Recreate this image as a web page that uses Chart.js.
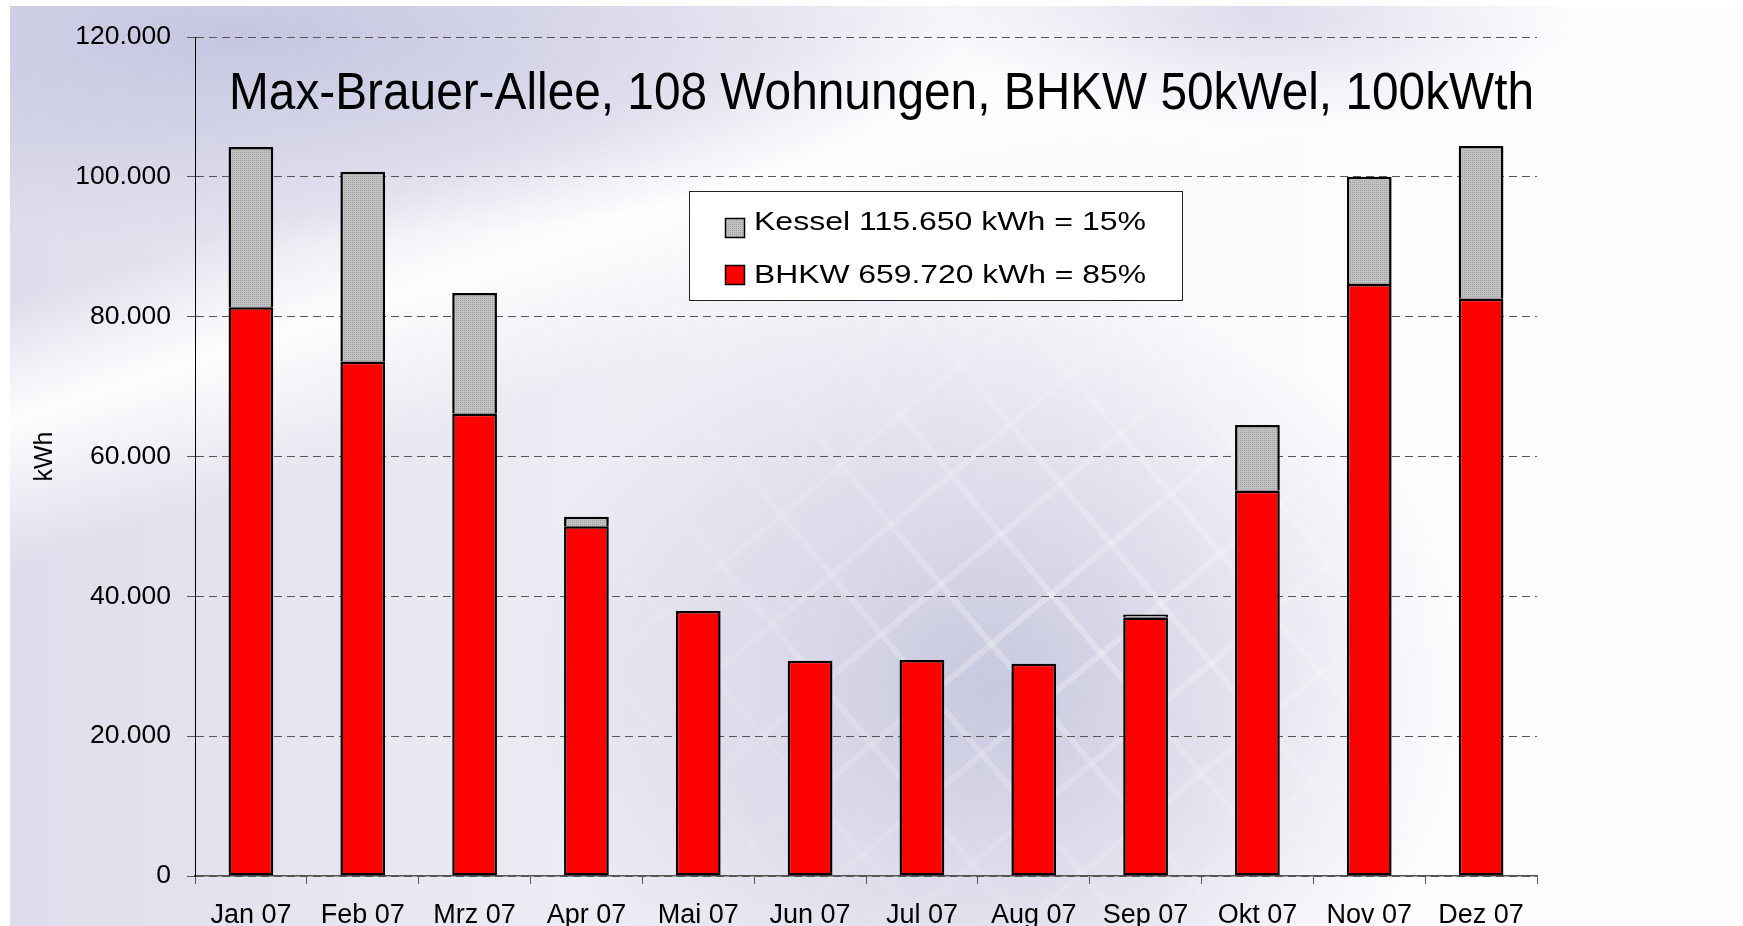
<!DOCTYPE html>
<html>
<head>
<meta charset="utf-8">
<script src="https://cdn.jsdelivr.net/npm/chart.js@4.4.1/dist/chart.umd.min.js"></script>
<style>
  html, body { margin: 0; padding: 0; background: #ffffff; }
  #bg {
    position: absolute; left: 10px; top: 6px; width: 1733px; height: 920px;
    background:
      radial-gradient(ellipse 470px 420px at 980px 680px, rgba(192,192,218,0.85), rgba(200,200,225,0) 100%),
      radial-gradient(ellipse 720px 210px at 230px 30px, rgba(196,196,224,0.95), rgba(210,210,230,0) 100%),
      radial-gradient(ellipse 320px 110px at 1250px 10px, rgba(205,205,228,0.7), rgba(220,220,235,0) 100%),
      linear-gradient(162deg, rgba(255,255,255,0) 0%, rgba(255,255,255,0) 20%, rgba(255,255,255,0.95) 28%, rgba(255,255,255,0) 38%),
      linear-gradient(90deg, #dedeec 0%, #e9e9f2 25%, #f3f3f8 50%, #fbfbfd 70%, #fefeff 100%);
  }
  #grid {
    position: absolute; left: 10px; top: 6px; width: 1733px; height: 920px;
    background:
      repeating-linear-gradient(50deg, rgba(255,255,255,0) 0px, rgba(255,255,255,0) 72px, rgba(255,255,255,0.3) 72px, rgba(255,255,255,0.3) 78px),
      repeating-linear-gradient(-40deg, rgba(255,255,255,0) 0px, rgba(255,255,255,0) 72px, rgba(255,255,255,0.3) 72px, rgba(255,255,255,0.3) 78px);
    -webkit-mask-image: radial-gradient(ellipse 520px 420px at 1050px 620px, rgba(0,0,0,1), rgba(0,0,0,0) 100%);
    mask-image: radial-gradient(ellipse 520px 420px at 1050px 620px, rgba(0,0,0,1), rgba(0,0,0,0) 100%);
  }
  #wrap { position: absolute; left: 0; top: 0; width: 1743px; height: 926px; }
</style>
</head>
<body>
<div id="bg"></div>
<div id="grid"></div>
<div id="wrap"><canvas id="c"></canvas></div>
<script>
const months = ['Jan 07','Feb 07','Mrz 07','Apr 07','Mai 07','Jun 07','Jul 07','Aug 07','Sep 07','Okt 07','Nov 07','Dez 07'];
const bhkw   = [81330, 73540, 66120, 50040, 37920, 30770, 30910, 30340, 36970, 55090, 84660, 82560];
const kessel = [22930, 27190, 17250,  1330,     0,     0,     0,     0,   430,  9400, 15350, 21850];
const yTickLabels = ['0','20.000','40.000','60.000','80.000','100.000','120.000'];
const chartTitle = 'Max-Brauer-Allee, 108 Wohnungen, BHKW 50kWel, 100kWth';
const legendLabels = ['Kessel 115.650 kWh = 15%', 'BHKW 659.720 kWh = 85%'];
const yAxisTitle = 'kWh';

const FONT = '"Liberation Sans", Arial, Helvetica, sans-serif';

function makePattern() {
  const t = document.createElement('canvas');
  t.width = 2; t.height = 2;
  const g = t.getContext('2d');
  g.fillStyle = '#c2c2c2'; g.fillRect(0, 0, 2, 2);
  g.fillStyle = '#a2a2a2'; g.fillRect(0, 0, 1, 1);
  return g.createPattern(t, 'repeat');
}
const ctx0 = document.getElementById('c').getContext('2d');
const kesselFill = makePattern();

function drawScaledText(ctx, text, x, y, fontPx, targetWidth) {
  ctx.save();
  ctx.font = fontPx + 'px ' + FONT;
  const w = ctx.measureText(text).width;
  const sx = targetWidth / w;
  ctx.translate(x, y);
  ctx.scale(sx, 1);
  ctx.textBaseline = 'alphabetic';
  ctx.textAlign = 'left';
  ctx.fillStyle = '#000';
  ctx.fillText(text, 0, 0);
  ctx.restore();
}

const overlay = {
  id: 'overlay',
  afterDatasetsDraw(chart) {
    const ctx = chart.ctx;
    drawScaledText(ctx, chartTitle, 229, 108.5, 51, 1305);
    ctx.save();
    ctx.fillStyle = '#ffffff';
    ctx.fillRect(689.5, 191.5, 493, 109);
    ctx.strokeStyle = '#222';
    ctx.lineWidth = 1;
    ctx.strokeRect(689.5, 191.5, 493, 109);
    const ds = chart.data.datasets;
    const items = [
      {label: legendLabels[0], fill: ds[1].backgroundColor, sy: 218, by: 230},
      {label: legendLabels[1], fill: ds[0].backgroundColor, sy: 265, by: 283}
    ];
    items.forEach(it => {
      ctx.fillStyle = it.fill;
      ctx.fillRect(725, it.sy, 20, 20);
      ctx.strokeStyle = '#000';
      ctx.lineWidth = 1.5;
      ctx.strokeRect(725.5, it.sy + 0.5, 19, 19);
      drawScaledText(ctx, it.label, 754, it.by, 26, 392);
    });
    ctx.restore();
  }
};

new Chart(ctx0, {
  type: 'bar',
  data: {
    labels: months,
    datasets: [
      { label: 'BHKW', data: bhkw, backgroundColor: '#ff0000', borderColor: '#000', borderWidth: 2.5, borderSkipped: false,
        barPercentage: 0.4, categoryPercentage: 1.0 },
      { label: 'Kessel', data: kessel, backgroundColor: kesselFill, borderColor: '#000',
        borderWidth: { top: 2.5, left: 2.5, right: 2.5, bottom: 0.5 }, borderSkipped: false,
        barPercentage: 0.4, categoryPercentage: 1.0 }
    ]
  },
  options: {
    responsive: true,
    maintainAspectRatio: false,
    animation: false,
    layout: { padding: { left: 0, right: 206, top: 37, bottom: 0 } },
    plugins: {
      legend: { display: false },
      title: { display: false },
      tooltip: { enabled: false }
    },
    scales: {
      x: {
        stacked: true,
        afterFit: s => { s.height = 50; },
        grid: { offset: true, drawOnChartArea: false, tickLength: 8, color: '#555', lineWidth: 1 },
        border: { color: '#555', width: 1.5 },
        ticks: { color: '#000', font: { family: FONT, size: 27 }, padding: 15, maxRotation: 0, autoSkip: false }
      },
      y: {
        stacked: true,
        min: 0, max: 120000,
        afterFit: s => { s.width = 195; },
        grid: { color: '#555', lineWidth: 1, tickLength: 8 },
        border: { color: '#000', width: 1, dash: [8, 5] },
        ticks: {
          stepSize: 20000, color: '#000', font: { family: FONT, size: 26.5 }, padding: 16,
          callback: (v, i) => yTickLabels[i]
        },
        title: { display: true, text: yAxisTitle, color: '#000', font: { family: FONT, size: 25 }, padding: { top: 30, bottom: 0 } }
      }
    }
  },
  plugins: [overlay]
});
</script>
</body>
</html>
